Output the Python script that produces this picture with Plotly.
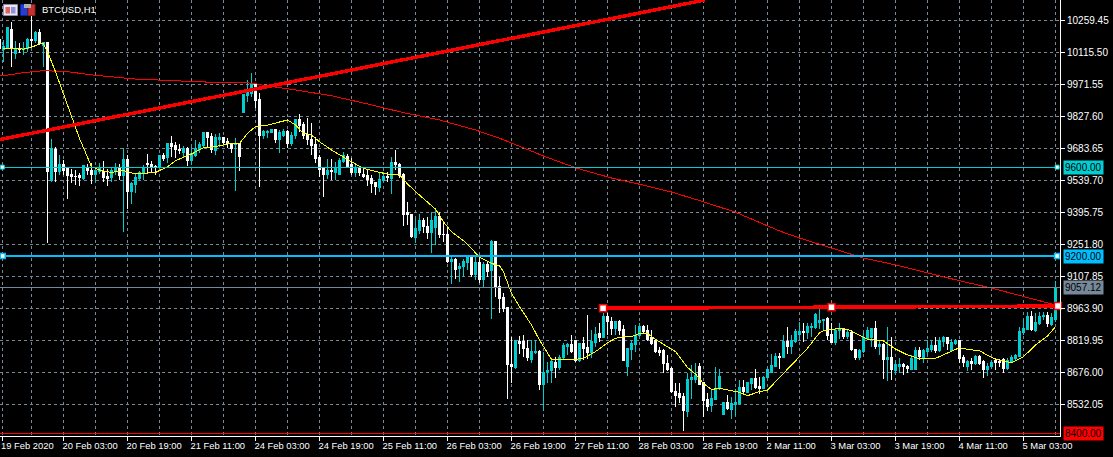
import plotly.graph_objects as go

SYMBOL_TITLE = "BTCUSD,H1"
BAR_INDEX = list(range(-1, 264))

OPENS = [
10172,10127,10139,10217,10112,10134,10127,10133,10176,10169,
10205,10149,10161,9539,9681,9580,9614,9597,9569,9560,
9561,9550,9597,9587,9569,9580,9582,9557,9552,9580,
9597,9564,9636,9492,9520,9549,9572,9617,9612,9602,
9597,9650,9642,9707,9695,9680,9665,9684,9632,9654,
9680,9696,9755,9737,9674,9722,9732,9714,9707,9702,
9707,9845,9921,9932,9970,9902,9744,9755,9755,9767,
9722,9744,9760,9707,9740,9812,9792,9747,9726,9700,
9644,9592,9569,9587,9578,9569,9624,9647,9612,9578,
9597,9569,9564,9550,9532,9509,9542,9560,9550,9622,
9614,9569,9395,9385,9284,9317,9362,9335,9307,9327,
9380,9299,9299,9174,9186,9143,9152,9173,9197,9119,
9173,9095,9160,9134,9264,9065,9014,8969,8714,8699,
8817,8814,8785,8736,8764,8772,8624,8674,8684,8722,
8699,8742,8795,8804,8819,8732,8808,8790,8766,8813,
8852,8832,8927,8907,8874,8904,8870,8702,8779,8804,
8844,8882,8867,8834,8822,8777,8774,8717,8694,8592,
8582,8570,8502,8644,8646,8705,8630,8556,8526,8555,
8602,8489,8543,8511,8534,8537,8610,8586,8627,8648,
8615,8604,8654,8678,8705,8750,8744,8817,8795,8817,
8849,8859,8855,8877,8879,8900,8909,8918,8847,8813,
8864,8873,8837,8855,8781,8744,8772,8830,8834,8873,
8792,8804,8735,8744,8687,8705,8710,8705,8690,8690,
8774,8744,8769,8781,8799,8774,8814,8832,8777,8807,
8819,8744,8705,8724,8717,8750,8724,8690,8702,8732,
8727,8735,8694,8726,8739,8747,8856,8870,8927,8867,
8895,8927,8932,8892,8915,
]
HIGHS = [
10172,10172,10232,10254,10169,10160,10164,10179,10284,10210,
10220,10164,10162,9725,9692,9654,9632,9602,9590,9587,
9572,9611,9614,9617,9602,9617,9627,9591,9594,9617,
9612,9684,9654,9534,9572,9582,9610,9659,9627,9610,
9654,9662,9710,9740,9714,9704,9695,9692,9692,9722,
9714,9760,9760,9755,9747,9752,9737,9730,9710,9730,
9710,9925,9992,10022,9970,9932,9767,9767,9767,9770,
9767,9770,9767,9760,9815,9839,9804,9820,9797,9737,
9654,9594,9635,9636,9624,9640,9670,9659,9640,9617,
9605,9594,9587,9564,9534,9575,9580,9580,9644,9677,
9617,9572,9444,9388,9365,9389,9370,9377,9400,9414,
9400,9347,9325,9197,9190,9167,9185,9204,9204,9200,
9204,9174,9174,9272,9267,9107,9032,8972,8837,8822,
8840,8844,8822,8822,8822,8777,8770,8724,8740,8747,
8754,8810,8810,8844,8822,8810,8837,8934,8867,8882,
8897,8942,8945,8924,8909,8912,8889,8784,8822,8889,
8897,8889,8889,8867,8825,8792,8784,8754,8702,8627,
8627,8582,8672,8710,8717,8717,8634,8582,8597,8699,
8694,8544,8574,8567,8604,8642,8642,8634,8652,8690,
8657,8660,8694,8759,8762,8765,8844,8879,8844,8874,
8904,8897,8897,8897,8942,8960,8919,8924,8897,8874,
8897,8874,8874,8867,8784,8784,8852,8882,8874,8907,
8822,8807,8882,8837,8732,8740,8717,8712,8754,8792,
8792,8784,8822,8822,8834,8837,8840,8837,8829,8825,
8822,8754,8732,8740,8754,8754,8732,8717,8732,8740,
8735,8740,8740,8754,8759,8882,8912,8949,8954,8942,
8949,8949,8949,8942,9089,
]
LOWS = [
10134,10074,10134,10052,10085,10112,10104,10120,10134,10157,
10149,10052,9260,9534,9534,9564,9564,9456,9530,9519,
9516,9542,9564,9524,9534,9569,9534,9515,9534,9564,
9542,9310,9410,9434,9482,9542,9542,9572,9575,9564,
9594,9629,9617,9647,9639,9659,9647,9606,9610,9647,
9662,9692,9692,9665,9654,9692,9700,9684,9662,9494,
9582,9842,9894,9917,9864,9512,9725,9730,9752,9710,
9665,9734,9684,9695,9725,9760,9725,9700,9654,9617,
9557,9467,9545,9542,9542,9564,9617,9594,9564,9557,
9560,9550,9515,9485,9474,9490,9534,9534,9479,9587,
9550,9335,9340,9280,9257,9299,9302,9275,9215,9250,
9280,9265,9170,9074,9096,9084,9107,9137,9107,9092,
9077,9062,9107,8918,9017,8946,8950,8557,8630,8694,
8759,8747,8729,8717,8759,8597,8502,8630,8627,8652,
8687,8732,8754,8765,8724,8724,8732,8735,8740,8792,
8814,8830,8844,8844,8844,8844,8727,8662,8732,8770,
8837,8852,8819,8799,8765,8750,8672,8684,8585,8522,
8537,8412,8474,8555,8627,8620,8477,8502,8499,8552,
8597,8487,8507,8466,8480,8534,8574,8582,8597,8604,
8579,8600,8650,8675,8699,8694,8740,8759,8759,8807,
8822,8814,8829,8837,8874,8874,8867,8822,8807,8802,
8829,8829,8829,8774,8732,8732,8765,8822,8792,8784,
8754,8649,8639,8642,8664,8672,8664,8672,8687,8687,
8732,8717,8754,8769,8765,8769,8792,8777,8774,8799,
8717,8699,8684,8687,8709,8709,8652,8660,8694,8687,
8699,8675,8687,8717,8732,8744,8844,8867,8864,8859,
8889,8912,8882,8885,8904,
]
CLOSES = [
10134,10142,10228,10134,10130,10127,10133,10175,10169,10205,
10154,10160,9580,9684,9580,9614,9587,9564,9557,9557,
9552,9608,9587,9569,9587,9594,9554,9549,9587,9597,
9564,9636,9492,9527,9552,9577,9597,9610,9597,9597,
9650,9639,9707,9692,9677,9674,9682,9632,9662,9684,
9700,9755,9734,9677,9732,9732,9710,9704,9684,9707,
9647,9925,9935,9970,9899,9744,9762,9762,9767,9725,
9755,9762,9707,9744,9812,9785,9744,9722,9696,9640,
9590,9569,9587,9580,9599,9632,9650,9605,9578,9599,
9575,9560,9545,9527,9512,9545,9560,9554,9620,9610,
9564,9389,9385,9287,9322,9362,9332,9307,9362,9380,
9295,9295,9177,9186,9140,9155,9177,9197,9116,9173,
9096,9160,9132,9266,9059,9010,8966,8710,8702,8819,
8807,8782,8742,8770,8772,8622,8677,8687,8724,8699,
8744,8799,8804,8772,8732,8808,8782,8766,8817,8849,
8832,8927,8904,8874,8904,8867,8732,8782,8807,8844,
8885,8859,8826,8807,8772,8768,8717,8690,8589,8574,
8564,8504,8646,8652,8664,8622,8552,8525,8561,8604,
8660,8543,8512,8537,8543,8610,8590,8631,8648,8609,
8606,8655,8688,8708,8747,8744,8817,8795,8822,8859,
8862,8855,8882,8885,8936,8912,8915,8844,8813,8867,
8870,8837,8855,8780,8744,8777,8834,8867,8873,8792,
8804,8735,8744,8690,8710,8714,8702,8694,8740,8774,
8750,8774,8784,8799,8774,8819,8834,8807,8810,8819,
8741,8723,8724,8717,8750,8717,8690,8705,8722,8720,
8720,8694,8732,8744,8753,8859,8874,8927,8870,8900,
8930,8932,8897,8924,9057.12,
]

FAST_MA_BARS = [0,5,7,9,10,11,13,15,17,19,22,24,27,30,33,35,38,41,43,47,50,53,56,59,61,63,
                66,71,73,75,77,79,82,87,90,94,97,99,101,104,108,110,112,115,117,119,122,124,125,
                127,129,132,134,137,140,143,145,148,151,153,155,157,159,161,163,166,168,171,173,
                175,177,179,181,184,186,189,191,193,195,198,201,204,205,209,211,213,216,220,223,
                226,229,233,236,239,241,244,247,249,252,255,258,261,263]
FAST_MA = [10134,10131,10139,10154,10155,10119,10029,9932,9834,9729,9602,9587,9576,9585,9569,9572,9576,
           9602,9629,9659,9687,9692,9704,9707,9752,9782,9789,9812,9789,9752,9744,9714,9677,9624,9594,
           9576,9566,9566,9524,9474,9411,9354,9309,9269,9234,9194,9167,9156,9129,9032,8972,8890,8822,
           8735,8735,8735,8740,8770,8810,8830,8837,8837,8852,8852,8825,8792,8770,8699,8669,8627,8600,
           8605,8597,8587,8572,8590,8597,8635,8675,8728,8785,8855,8864,8875,8870,8852,8825,8818,8782,
           8755,8737,8740,8765,8788,8780,8774,8744,8732,8720,8747,8800,8840,8882]

SLOW_MA_BARS = [-1,0,5,10,16,23,33,41,50,62,66,73,82,91,100,109,118,124,135,143,152,159,167,175,183,194,
                199,207,215,223,231,239,247,255,263]
SLOW_MA = [10010,10011,10025,10034,10029,10013,9996,9989,9983,9978,9965,9947,9921,9884,9845,9812,9767,
           9730,9650,9597,9551,9523,9488,9444,9397,9313,9281,9236,9191,9160,9124,9089,9056,9017,8980]

Y_TICKS = [10259.45,10115.50,9971.55,9827.60,9683.65,9539.70,9395.75,9251.80,9107.85,8963.90,8819.95,8676.00,8532.05]
X_LABEL_BARS = [-0.375,15,31,47,63,79,95,111,127,143,159,175,191,207,223,239,255]
X_LABELS = ["19 Feb 2020","20 Feb 03:00","20 Feb 19:00","21 Feb 11:00","24 Feb 03:00","24 Feb 19:00",
            "25 Feb 11:00","26 Feb 03:00","26 Feb 19:00","27 Feb 11:00","28 Feb 03:00","28 Feb 19:00",
            "2 Mar 11:00","3 Mar 03:00","3 Mar 19:00","4 Mar 11:00","5 Mar 03:00"]
X_MINOR_BARS = [7,23,39,55,71,87,103,119,135,151,167,183,199,215,231,247,263]

LEVEL_9600 = 9600.00
LEVEL_9200 = 9200.00
LEVEL_LAST = 9057.12
LEVEL_8400 = 8400.00
TREND_UP_BARS = [-0.875, 175.4]
TREND_UP_VALS = [9724, 10351.6]
TREND_FLAT_BARS = [149.9, 207, 263.6]
TREND_FLAT_VALS = [8965, 8970, 8975]

assert len(OPENS) == len(HIGHS) == len(LOWS) == len(CLOSES) == len(BAR_INDEX)

CYAN = "#00CED1"
SKY = "#00BFFF"
RED = "#FF0000"
YEL = "#FFFF00"
GRID = "#778899"
FONT = "Liberation Sans"
FS = 10
W, H = 1113, 457
PW, PH = 1060, 436
XR = [-0.875, 264.125]
YR = [8390.53, 10351.66]

fig = go.Figure()
fig.add_trace(go.Candlestick(
    x=BAR_INDEX, open=OPENS, high=HIGHS, low=LOWS, close=CLOSES,
    increasing=dict(line=dict(color=CYAN, width=1), fillcolor=CYAN),
    decreasing=dict(line=dict(color="#FFFFFF", width=1), fillcolor="#FFFFFF"),
    whiskerwidth=0, hoverinfo="skip", showlegend=False))


def line(xs, ys, color, width):
    fig.add_trace(go.Scatter(x=xs, y=ys, mode="lines", line=dict(color=color, width=width),
                             hoverinfo="skip", showlegend=False))


line(SLOW_MA_BARS, SLOW_MA, RED, 1)
line(FAST_MA_BARS, FAST_MA, YEL, 1)
line(XR, [LEVEL_LAST, LEVEL_LAST], GRID, 1)
line(XR, [LEVEL_8400, LEVEL_8400], RED, 1)
line(XR, [LEVEL_9600, LEVEL_9600], CYAN, 1)
line(XR, [LEVEL_9200, LEVEL_9200], SKY, 2)
line(TREND_UP_BARS, TREND_UP_VALS, RED, 3.5)
line(TREND_FLAT_BARS, TREND_FLAT_VALS, RED, 3.5)


def handles(xs, ys, color, size, edge):
    fig.add_trace(go.Scatter(x=xs, y=ys, mode="markers",
                             marker=dict(symbol="square", color="#FFFFFF", size=size,
                                         line=dict(color=color, width=edge)),
                             hoverinfo="skip", showlegend=False, cliponaxis=False))


handles([-0.3, 263.4], [LEVEL_9600, LEVEL_9600], CYAN, 4, 1)
handles([-0.2, 263.4], [LEVEL_9200, LEVEL_9200], SKY, 5, 1.5)
handles(TREND_FLAT_BARS, TREND_FLAT_VALS, RED, 7, 1.5)


def px(x):
    return x / PW


def py(y):
    return 1 - y / PH


def rect(x0, y0, x1, y1, fill, stroke=None):
    fig.add_shape(type="rect", xref="paper", yref="paper", x0=px(x0), x1=px(x1), y0=py(y1), y1=py(y0),
                  fillcolor=fill, line=dict(color=stroke or fill, width=1 if stroke else 0))


# window-style toolbar icons beside the symbol label
rect(3.5, 4.5, 17.5, 15.5, "#E8E4F0", "#8C8CA8")
rect(5.5, 7, 10, 13.5, "#E06060")
rect(11, 7, 15.5, 13.5, "#9090D8")
rect(20.5, 4.5, 27.5, 15.5, "#2040D0", "#1020A0")
rect(28, 4.5, 35, 15.5, "#C83030", "#802020")
rect(24, 4, 31, 8, "#B0B0B0")

fig.add_annotation(text=SYMBOL_TITLE, xref="paper", yref="paper", x=px(39.5), y=py(9.5),
                   xanchor="left", yanchor="middle", showarrow=False,
                   font=dict(family=FONT, size=9.5, color="#FFFFFF"))


def tag(value, text, bg, fg="#000000"):
    fig.add_annotation(text=text, xref="paper", yref="y", x=px(1062.5), y=value,
                       xanchor="left", yanchor="middle", showarrow=False, bgcolor=bg,
                       borderpad=1, font=dict(family=FONT, size=FS, color=fg))


tag(LEVEL_9600, "9600.00", CYAN)
tag(LEVEL_9200, "9200.00", SKY)
tag(LEVEL_LAST, "9057.12", GRID)
tag(LEVEL_8400, "8400.00", RED)

axis_common = dict(showgrid=True, gridcolor=GRID, griddash="3px,3px", gridwidth=1, zeroline=False,
                   showline=True, linecolor="#FFFFFF", linewidth=1, ticks="outside", ticklen=4,
                   tickcolor="#FFFFFF", tickwidth=1,
                   tickfont=dict(family=FONT, size=FS, color="#FFFFFF"), fixedrange=True)

fig.update_layout(
    width=W, height=H, autosize=False,
    margin=dict(l=0, r=W - PW, t=0, b=H - PH, pad=0),
    paper_bgcolor="#000000", plot_bgcolor="#000000",
    showlegend=False, boxgap=0.5, boxmode="overlay",
    xaxis=dict(axis_common, range=XR, tickmode="array", tickvals=X_LABEL_BARS, ticktext=X_LABELS,
               tickangle=0, rangeslider=dict(visible=False), ticklabelposition="outside right",
               ticklabelshift=-2, ticklabelstandoff=1,
               tickfont=dict(family=FONT, size=9.4, color="#FFFFFF"),
               minor=dict(tickmode="array", tickvals=X_MINOR_BARS, showgrid=True, gridcolor=GRID,
                          griddash="3px,3px", gridwidth=1, ticks="")),
    yaxis=dict(axis_common, range=YR, side="right", tickmode="array", tickvals=Y_TICKS,
               ticktext=[f"{v:.2f}" for v in Y_TICKS]),
)

fig.write_html("out.html", config={"displayModeBar": False},
               post_script="document.body.style.margin='0';document.body.style.background='#000';"
                           "document.querySelectorAll('.boxlayer path, .scatterlayer .js-line').forEach(function(p){"
                           "p.style.shapeRendering='crispEdges';});")
